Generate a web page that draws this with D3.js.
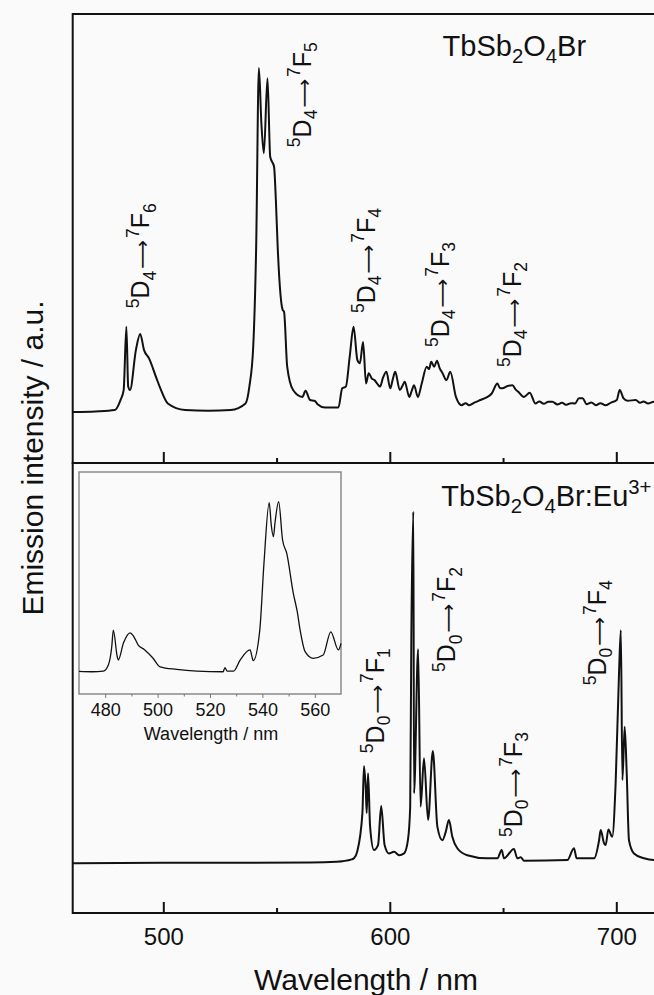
<!DOCTYPE html>
<html>
<head>
<meta charset="utf-8">
<script src="https://cdn.jsdelivr.net/npm/d3@7/dist/d3.min.js"></script>
<style>
    body { margin: 0; background: #fafafa; }
    text { font-family: "Liberation Sans", Arial, sans-serif; fill: #111; }
</style>
</head>
<body>
<div id="chart"></div>
<script>

// TbSb2O4Br emission (top panel), wavelength in nm, intensity normalised to the 542 nm peak
var tbWave = [460, 470, 478.6, 481.1, 482.5, 483.7, 484.5, 485.3, 487.9, 489.8, 491.5, 493.7, 497, 498.7, 502, 509.6,
    520, 529.7, 536.3, 538, 539.7, 541, 542.2, 543.3, 544.4, 546, 547.2, 548.9, 549.7, 550.5, 552.7, 553.3, 554.7,
    557.3, 561.4, 562.8, 564.8, 566.8, 568.1, 571.5, 577.3, 579, 580.6, 582.3, 584, 585.7, 586.8, 588.2, 589.5,
    590.7, 592, 593.2, 594.5, 595.7, 597, 598.5, 600.2, 601.3, 602.4, 604.4, 605.5, 606.6, 608.6, 609.6, 610.7, 612.4,
    614.1, 616.3, 617.3, 618.3, 619.6, 620.8, 622, 623.3, 625, 626.7, 629.2, 631.7, 633.5, 635, 637.5, 640, 642.5, 645,
    647.5, 648.6, 649.7, 652, 654.2, 655.5, 656.7, 659.2, 661.8, 664.3, 666, 668, 670, 671.8, 674, 676, 678, 680,
    681.8, 683.5, 685.2, 686.8, 689, 691, 693, 695.2, 697.5, 700.2, 701.5, 703.2, 705, 708.6, 710.5, 712, 714, 716.6, 720];
var tbInt = [0, 0.002, 0.006, 0.035, 0.064, 0.248, 0.074, 0.064, 0.18, 0.227, 0.18, 0.156, 0.098, 0.069, 0.025, 0.006,
    0.004, 0.006, 0.025, 0.074, 0.19, 0.48, 1.0, 0.84, 0.752, 0.97, 0.742, 0.713, 0.616, 0.48, 0.297, 0.292, 0.132,
    0.064, 0.044, 0.062, 0.035, 0.033, 0.023, 0.013, 0.013, 0.069, 0.074, 0.161, 0.248, 0.151, 0.142, 0.204, 0.083,
    0.113, 0.098, 0.093, 0.082, 0.074, 0.1, 0.117, 0.069, 0.095, 0.117, 0.064, 0.075, 0.088, 0.044, 0.06, 0.078, 0.044,
    0.083, 0.132, 0.125, 0.146, 0.132, 0.149, 0.128, 0.113, 0.093, 0.117, 0.044, 0.02, 0.026, 0.02, 0.028, 0.035, 0.042, 0.054,
    0.083, 0.07, 0.069, 0.076, 0.078, 0.066, 0.059, 0.044, 0.056, 0.025, 0.031, 0.024, 0.03, 0.03, 0.022, 0.027, 0.021, 0.026,
    0.025, 0.04, 0.04, 0.023, 0.028, 0.02, 0.026, 0.02, 0.027, 0.035, 0.064, 0.04, 0.033, 0.035, 0.027, 0.031, 0.025, 0.03, 0.029];

// TbSb2O4Br:Eu3+ emission (bottom panel), normalised to the 611 nm line
var euWave = [460, 500, 565, 576.5, 583.2, 584.2, 585.6, 587.9, 588.6, 589.4, 589.8, 590.4, 591.3, 593, 594.8, 596.2,
    597.7, 599.6, 601.9, 604.1, 606.3, 608, 609, 609.5, 610.4, 610.7, 612.5, 613.6, 615.1, 616.9, 619, 621, 623.2,
    624.7, 626.1, 627.6, 629.8, 634.2, 643, 647.5, 649.4, 650.4, 654.8, 656.3, 657.8, 659.3, 678.4, 681.3, 682.5,
    690.2, 692.4, 693.1, 694.6, 695.3, 696.5, 698.2, 699.7, 701.2, 702, 702.7, 703.7, 704.6, 705.6, 707.8, 712.2, 716.6, 720];
var euInt = [-0.009, -0.008, -0.007, -0.005, 0.002, 0.005, 0.024, 0.134, 0.27, 0.201, 0.135, 0.249, 0.096, 0.029, 0.043, 0.155,
    0.043, 0.019, 0.024, 0.014, 0.019, 0.057, 0.153, 0.632, 1.0, 0.192, 0.605, 0.153, 0.292, 0.115, 0.313, 0.096, 0.057,
    0.081, 0.115, 0.067, 0.034, 0.014, 0.005, 0.005, 0.029, 0.005, 0.032, 0.005, 0.008, -0.002, 0, 0.034, 0.005,
    0.005, 0.057, 0.086, 0.048, 0.043, 0.088, 0.067, 0.22, 0.536, 0.66, 0.23, 0.383, 0.249, 0.057, 0.019, 0.005, 0, 0];

// inset: Tb3+ part of the doped sample
var insetWave = [470, 475, 479.3, 481.2, 482.5, 483.1, 484.6, 485, 487, 489.5, 490.8, 492.6, 495, 498.2, 500.9, 507.3, 515,
    525, 525.7, 526.5, 529, 531.5, 535.3, 536.5, 539, 540.6, 542.6, 543.4, 544.2, 544.8, 546.2, 547.7, 549.3, 551.8,
    553.3, 554.4, 556.3, 559.4, 563.2, 566.1, 569, 570];
var insetInt = [0.002, 0, 0.003, 0.039, 0.147, 0.245, 0.088, 0.069, 0.17, 0.229, 0.21, 0.157, 0.13, 0.081, 0.029, 0.014, 0.004,
    0, 0.024, 0.004, 0.004, 0.069, 0.128, 0.065, 0.245, 0.639, 0.994, 0.86, 0.794, 0.875, 1.0, 0.775, 0.696, 0.461,
    0.353, 0.245, 0.118, 0.079, 0.098, 0.235, 0.128, 0.167];

var majorTicks = [500, 600, 700];
var minorTicks = [550, 650];
var insetMajor = [480, 500, 520, 540, 560];
var insetMinor = [490, 510, 530, 550];

// transition labels: [lower level, upper level, wavelength of label, intensity where it starts]
var tbLabels = [
    ["4", "6", 493.9, 0.302],
    ["4", "5", 565, 0.77],
    ["4", "4", 593.4, 0.288],
    ["4", "3", 626, 0.189],
    ["4", "2", 657.8, 0.131]
];
var euLabels = [
    ["0", "1", 597.3, 0.307],
    ["0", "2", 628.9, 0.54],
    ["0", "3", 658.4, 0.066],
    ["0", "4", 695.5, 0.502]
];

var width = 654, height = 995;

var svg = d3.select("#chart")
    .append("svg")
    .attr("width", width)
    .attr("height", height);

var x = d3.scaleLinear().domain([460, 720]).range([72.7, 661.6]);
var yTop = d3.scaleLinear().domain([-0.148, 1.157]).range([463, 14]);
var yBot = d3.scaleLinear().domain([-0.152, 1.14]).range([913, 463]);
var xIn = d3.scaleLinear().domain([470, 570]).range([79, 341]);
var yIn = d3.scaleLinear().domain([-0.131, 1.175]).range([694, 472]);

// frames
svg.append("rect")
    .attr("x", x(460)).attr("y", yTop.range()[1])
    .attr("width", x(720) - x(460)).attr("height", yTop.range()[0] - yTop.range()[1])
    .attr("fill", "none").attr("stroke", "#111").attr("stroke-width", 2);
svg.append("rect")
    .attr("x", x(460)).attr("y", yBot.range()[1])
    .attr("width", x(720) - x(460)).attr("height", yBot.range()[0] - yBot.range()[1])
    .attr("fill", "none").attr("stroke", "#111").attr("stroke-width", 2);

function tickAxis(yPos, values, size, labels) {
    var g = svg.append("g")
        .attr("transform", "translate(0," + yPos + ")")
        .call(d3.axisBottom(x).tickValues(values).tickSize(-size).tickPadding(15)
            .tickFormat(labels ? d3.format("d") : ""));
    g.select(".domain").remove();
    g.selectAll("line").attr("stroke", "#111").attr("stroke-width", 2);
    g.selectAll("text").style("font-size", "24px").attr("fill", "#111");
    return g;
}

tickAxis(463, majorTicks, 11, false);
tickAxis(463, minorTicks, 5, false);
tickAxis(913, majorTicks, 11, true);
tickAxis(913, minorTicks, 5, false);

// spectra
function spectrum(wave, vals, xs, ys, w) {
    var pts = wave.map(function (d, i) { return [d, vals[i]]; });
    svg.append("path")
        .datum(pts)
        .attr("fill", "none")
        .attr("stroke", "#111")
        .attr("stroke-width", w)
        .attr("stroke-linejoin", "round")
        .attr("d", d3.line()
            .curve(d3.curveMonotoneX)
            .x(function (d) { return xs(d[0]); })
            .y(function (d) { return ys(d[1]); }));
}

spectrum(tbWave, tbInt, x, yTop, 2);
spectrum(euWave, euInt, x, yBot, 2);

// inset
svg.append("rect")
    .attr("x", xIn(470)).attr("y", yIn.range()[1])
    .attr("width", xIn(570) - xIn(470)).attr("height", yIn.range()[0] - yIn.range()[1])
    .attr("fill", "#fafafa").attr("stroke", "#8a8a8a").attr("stroke-width", 1.5);

spectrum(insetWave, insetInt, xIn, yIn, 1.3);

var gIn = svg.append("g")
    .attr("transform", "translate(0," + yIn.range()[0] + ")")
    .call(d3.axisBottom(xIn).tickValues(insetMajor).tickSize(4).tickPadding(5));
gIn.select(".domain").remove();
gIn.selectAll("line").attr("stroke", "#777");
gIn.selectAll("text").style("font-size", "18px").attr("fill", "#111");

var gInMinor = svg.append("g")
    .attr("transform", "translate(0," + yIn.range()[0] + ")")
    .call(d3.axisBottom(xIn).tickValues(insetMinor).tickSize(2.5).tickFormat(""));
gInMinor.select(".domain").remove();
gInMinor.selectAll("line").attr("stroke", "#777");

svg.append("text")
    .attr("x", (xIn(470) + xIn(570)) / 2 + 1)
    .attr("y", 740)
    .attr("text-anchor", "middle")
    .style("font-size", "18px")
    .text("Wavelength / nm");

// rich text helper: parts are [string, "sup" | "sub" | "arrow" | "", dx]
function richText(sel, parts, size) {
    var shift = 0;
    parts.forEach(function (p) {
        var target = p[1] === "sup" ? -0.42 * size : p[1] === "sub" ? 0.25 * size : 0;
        var fs = (p[1] === "sup" || p[1] === "sub") ? 0.7 * size : size;
        if (p[1] === "arrow") fs = 0.8 * size;
        var ts = sel.append("tspan")
            .attr("dy", target - shift)
            .style("font-size", fs + "px")
            .text(p[0]);
        if (p[1] === "arrow") {
            ts.style("font-family", "'DejaVu Sans', sans-serif")
                .style("font-weight", "normal")
                .attr("fill", "#111");
        }
        if (p[2]) ts.attr("dx", p[2]);
        shift = target;
    });
}

function transition(lbl, ys) {
    var t = svg.append("text")
        .attr("transform", "translate(" + x(lbl[2]) + "," + ys(lbl[3]) + ") rotate(-90)")
        .style("font-size", "25px");
    richText(t, [["5", "sup"], ["D", ""], [lbl[0], "sub"], ["\u27F6", "arrow", 2], ["7", "sup", 2], ["F", ""], [lbl[1], "sub"]], 25);
}

tbLabels.forEach(function (l) { transition(l, yTop); });
euLabels.forEach(function (l) { transition(l, yBot); });

// sample names
var t1 = svg.append("text").attr("x", 442.6).attr("y", 56).style("font-size", "29px");
richText(t1, [["TbSb", ""], ["2", "sub"], ["O", ""], ["4", "sub"], ["Br", ""]], 29);

var t2 = svg.append("text").attr("x", 441.3).attr("y", 505.7).style("font-size", "29px");
richText(t2, [["TbSb", ""], ["2", "sub"], ["O", ""], ["4", "sub"], ["Br:Eu", ""], ["3+", "sup"]], 29);

// axis titles
svg.append("text")
    .attr("x", 366)
    .attr("y", 990)
    .attr("text-anchor", "middle")
    .style("font-size", "30px")
    .text("Wavelength / nm");

svg.append("text")
    .attr("transform", "translate(43,458) rotate(-90)")
    .attr("text-anchor", "middle")
    .style("font-size", "30px")
    .text("Emission intensity / a.u.");

</script>
</body>
</html>
